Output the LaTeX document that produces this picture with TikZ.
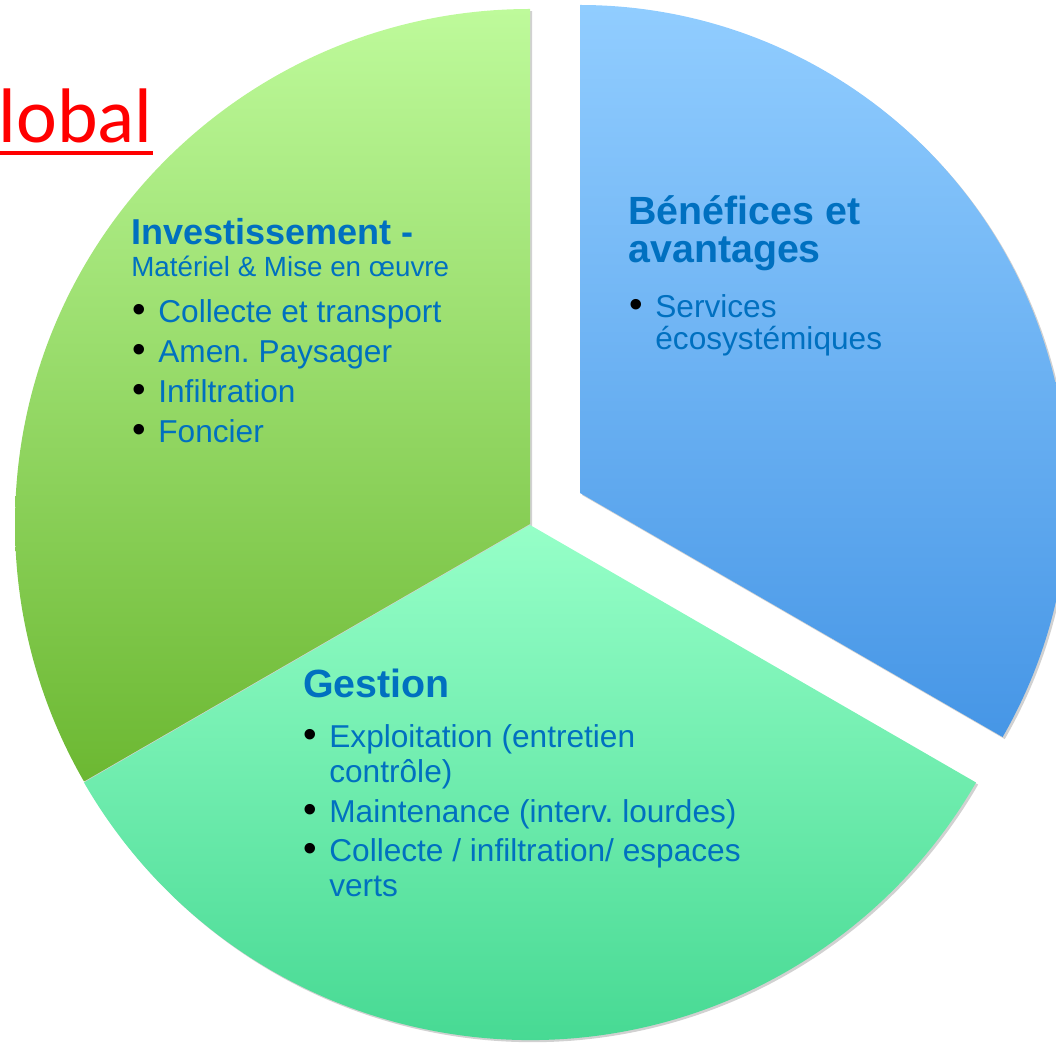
\documentclass[tikz,border=0pt]{standalone}
\usepackage{fontspec}
\setmainfont{Liberation Sans}
\newfontfamily\titlefont{Carlito}
\usetikzlibrary{shadows}

\definecolor{txtblue}{RGB}{0,112,192}
\definecolor{greentop}{RGB}{190,250,155}
\definecolor{greenbot}{RGB}{108,184,50}
\definecolor{bluetop}{RGB}{145,205,255}
\definecolor{bluebot}{RGB}{70,150,230}
\definecolor{tealtop}{RGB}{150,255,200}
\definecolor{tealbot}{RGB}{60,212,140}

\newcommand\bul{\llap{\textcolor{black}{\raisebox{0.5pt}{\fontsize{22}{22}\selectfont •}}\hspace{7pt}}}

\begin{document}
\frenchspacing
\begin{tikzpicture}[x=0.02cm, y=0.02cm,
		sector/.style={drop shadow={shadow xshift=1.2pt, shadow yshift=-1.2pt, opacity=0.18, fill=black}},
		heading/.style={anchor=base west, inner sep=0pt, text=txtblue, font=\bfseries\fontsize{22.4}{25}\selectfont},
		item/.style={anchor=base west, inner sep=0pt, text=txtblue, font=\fontsize{18}{21}\selectfont}]
		\useasboundingbox (0,0) rectangle (1056,1049);
		% sectors
		\coordinate (cgreen) at (530,525);
		\coordinate (cteal) at (530,524);
		\coordinate (cblue) at (580,556);
		\path[sector, top color=greentop, bottom color=greenbot]
		(cgreen) -- ++(90:515) arc[start angle=90, end angle=210, radius=515] -- cycle;
		\path[sector, top color=tealtop, bottom color=tealbot]
		(cteal) -- ++(210:515) arc[start angle=210, end angle=330, radius=515] -- cycle;
		\path[sector, top color=bluetop, bottom color=bluebot]
		(cblue) -- ++(-30:488) arc[start angle=-30, end angle=90, radius=488] -- cycle;
		% title
		\node[anchor=base east, inner sep=0pt, text=red, font=\titlefont\fontsize{44}{50}\selectfont]
		(global) at (153,906) {Global};
		\draw[red, line width=0.085cm] ([yshift=-0.2cm]global.base west) -- ([yshift=-0.2cm]global.base east);
		% investissement
		\node[heading, font=\bfseries\fontsize{20.5}{23}\selectfont] (invest) at (131,804) {Investissement -};
		\node[item, font=\fontsize{15.8}{18}\selectfont] (investsub) at (131,772) {Matériel \& Mise en œuvre};
		\node[item] (invest1) at (158,726) {\bul Collecte et transport};
		\node[item] (invest2) at (158,686) {\bul Amen. Paysager};
		\node[item] (invest3) at (158,646) {\bul Infiltration};
		\node[item] (invest4) at (158,606) {\bul Foncier};
		% benefices
		\node[heading] (benefA) at (628,824) {Bénéfices et};
		\node[heading] (benefB) at (628,786) {avantages};
		\node[item] (benef1) at (655,731) {\bul Services};
		\node[item] (benef1b) at (655,699) {écosystémiques};
		% gestion
		\node[heading] (gestion) at (303,351) {Gestion};
		\node[item] (gestion1) at (329,301) {\bul Exploitation (entretien};
		\node[item] (gestion1b) at (329,266) {contrôle)};
		\node[item] (gestion2) at (329,226) {\bul Maintenance (interv. lourdes)};
		\node[item] (gestion3) at (329,187) {\bul Collecte / infiltration/ espaces};
		\node[item] (gestion3b) at (329,152) {verts};
	\end{tikzpicture}
\end{document}
